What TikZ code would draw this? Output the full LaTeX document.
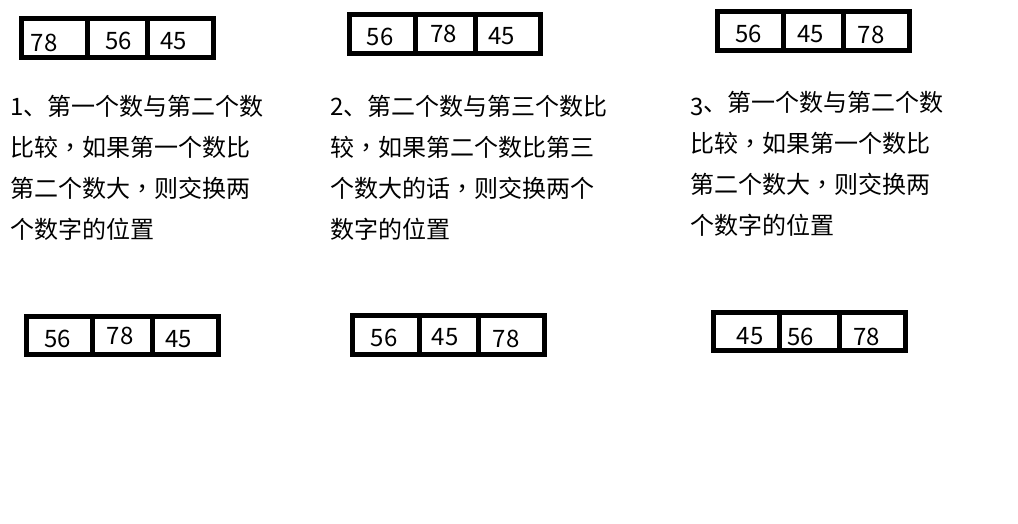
\documentclass[tikz,border=0pt]{standalone}
\usepackage{fontspec}
\setmainfont{Noto Sans CJK SC}
\newfontfamily\tcfont{Noto Sans CJK TC}
\newcommand{\zhcomma}{{\tcfont ，}}
\usetikzlibrary{positioning}

\begin{document}
\begin{tikzpicture}[x=1pt, y=-1pt,
    frame/.style={draw=black, line width=5pt},
    num/.style={inner sep=0pt, font=\fontsize{24}{24}\selectfont},
    stepnote/.style={anchor=base west, inner sep=0pt, align=left,
      font=\fontsize{24}{41}\selectfont}
  ]
    \useasboundingbox[fill=white] (0,0) rectangle (1018,524);

    % top row
    \draw[frame] (21.5,18.5) rectangle (213.5,57.5);
    \draw[frame] (87.5,18.5) -- (87.5,57.5) (147.5,18.5) -- (147.5,57.5);
    \node[num] (a1) at (44,43) {78};
    \node[num] (a2) at (118.5,41) {56};
    \node[num] (a3) at (173.5,41) {45};

    \draw[frame] (349.5,14.5) rectangle (540.5,53.5);
    \draw[frame] (415,14.5) -- (415,53.5) (475,14.5) -- (475,53.5);
    \node[num] (b1) at (380,36.5) {56};
    \node[num] (b2) at (443.5,34) {78};
    \node[num] (b3) at (501.5,36.5) {45};

    \draw[frame] (717.5,11.5) rectangle (909.5,50.5);
    \draw[frame] (783,11.5) -- (783,50.5) (843,11.5) -- (843,50.5);
    \node[num] (c1) at (748.5,34) {56};
    \node[num] (c2) at (810.5,34) {45};
    \node[num] (c3) at (871,34.5) {78};

    % steps (base = last line)
    \node[stepnote] (s1) at (10,238) {1、第一个数与第二个数\\比较\zhcomma 如果第一个数比\\第二个数大\zhcomma 则交换两\\个数字的位置};
    \node[stepnote] (s2) at (330,238) {2、第二个数与第三个数比\\较\zhcomma 如果第二个数比第三\\个数大的话\zhcomma 则交换两个\\数字的位置};
    \node[stepnote] (s3) at (690,234) {\raisebox{-4pt}{3}、第一个数与第二个数\\比较\zhcomma 如果第一个数比\\第二个数大\zhcomma 则交换两\\个数字的位置};

    % bottom row
    \draw[frame] (26.5,316.5) rectangle (218.5,354.5);
    \draw[frame] (92.7,316.5) -- (92.7,354.5) (152,316.5) -- (152,354.5);
    \node[num] (d1) at (57.5,338.5) {56};
    \node[num] (d2) at (120,335.5) {78};
    \node[num] (d3) at (178.5,339) {45};

    \draw[frame] (352.5,315.5) rectangle (544.5,354.5);
    \draw[frame] (419,315.5) -- (419,354.5) (478,315.5) -- (478,354.5);
    \node[num] (e1) at (384,337.5) {56};
    \node[num] (e2) at (445,337.5) {45};
    \node[num] (e3) at (506,339) {78};

    \draw[frame] (713.5,312.5) rectangle (905.5,350.5);
    \draw[frame] (779.5,312.5) -- (779.5,350.5) (839.5,312.5) -- (839.5,350.5);
    \node[num] (f1) at (750,336.5) {45};
    \node[num] (f2) at (800.5,336.5) {56};
    \node[num] (f3) at (866.5,336.5) {78};
  \end{tikzpicture}
\end{document}
